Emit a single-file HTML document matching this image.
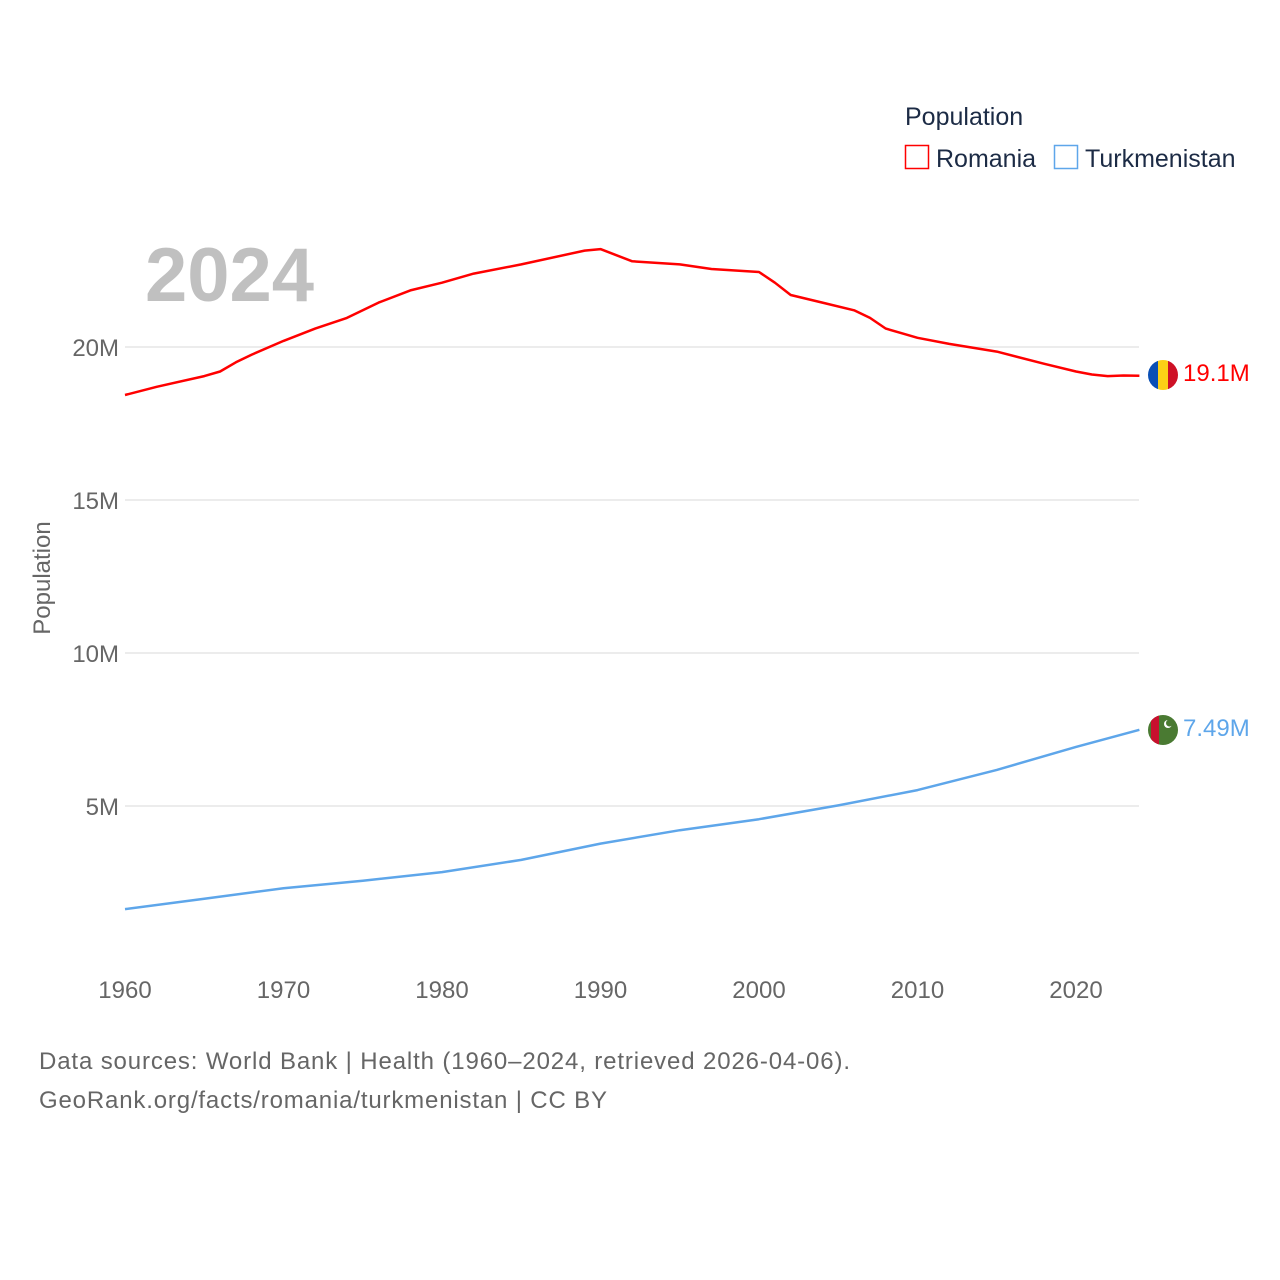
<!DOCTYPE html>
<html><head><meta charset="utf-8"><style>
html,body{margin:0;padding:0;background:#fff;width:1280px;height:1280px;overflow:hidden;font-family:"Liberation Sans",sans-serif;}
</style></head><body>
<svg id="chart" width="1280" height="1280" xmlns="http://www.w3.org/2000/svg" font-family="Liberation Sans, sans-serif">
<defs>
<clipPath id="c1"><circle cx="1163" cy="375" r="15"/></clipPath>
<clipPath id="c2"><circle cx="1163" cy="730" r="15"/></clipPath>
</defs>
<g id="grid"></g>
<text x="145" y="301" font-size="76" font-weight="bold" fill="#c0c0c0">2024</text>
<text transform="translate(50,578) rotate(-90)" text-anchor="middle" font-size="24" fill="#666">Population</text>
<g id="lines"></g>
<g>
<text x="905" y="125" font-size="25" fill="#1c2b45">Population</text>
<rect x="905.5" y="145.5" width="23" height="23" fill="none" stroke="#ff0000" stroke-width="1.5"/>
<text x="936" y="167" font-size="25" fill="#1c2b45">Romania</text>
<rect x="1054.5" y="145.5" width="23" height="23" fill="none" stroke="#5ea6ea" stroke-width="1.5"/>
<text x="1085" y="167" font-size="25" fill="#1c2b45">Turkmenistan</text>
</g>
<g clip-path="url(#c1)">
<rect x="1148" y="360" width="10" height="30" fill="#0a4fb5"/><rect x="1158" y="360" width="10" height="30" fill="#fcd116"/><rect x="1168" y="360" width="10" height="30" fill="#ce1126"/>
</g>
<g clip-path="url(#c2)">
<rect x="1148" y="715" width="30" height="30" fill="#4a7a32"/><rect x="1151" y="715" width="8" height="30" fill="#c8102e"/>
<circle cx="1168" cy="724" r="4" fill="#fff"/><circle cx="1169.5" cy="723" r="3.5" fill="#4a7a32"/>
</g>
<text x="1183" y="381" font-size="24" fill="#ff0000">19.1M</text>
<text x="1183" y="736" font-size="24" fill="#5ea6ea">7.49M</text>
<text x="39" y="1069" font-size="24" fill="#666" textLength="811" lengthAdjust="spacing">Data sources: World Bank | Health (1960–2024, retrieved 2026-04-06).</text>
<text x="39" y="1108" font-size="24" fill="#666" textLength="568" lengthAdjust="spacing">GeoRank.org/facts/romania/turkmenistan | CC BY</text>
</svg>
<script>
const yTicks=[5,10,15,20];
const yTickLabels=["5M","10M","15M","20M"];
const xTicks=[1960,1970,1980,1990,2000,2010,2020];
const romYears=[1960,1962,1965,1966,1967,1968,1970,1972,1974,1976,1978,1980,1982,1985,1989,1990,1992,1995,1997,2000,2001,2002,2004,2006,2007,2008,2009,2010,2012,2015,2018,2020,2021,2022,2023,2024];
const romValues=[18.43,18.7,19.05,19.2,19.5,19.75,20.2,20.6,20.95,21.45,21.85,22.1,22.4,22.7,23.15,23.2,22.8,22.7,22.55,22.45,22.1,21.7,21.45,21.2,20.95,20.6,20.45,20.3,20.1,19.85,19.45,19.2,19.1,19.05,19.07,19.06];
const tkmYears=[1960,1965,1970,1975,1980,1985,1990,1995,2000,2005,2010,2015,2020,2024];
const tkmValues=[1.63,1.97,2.31,2.56,2.84,3.24,3.77,4.21,4.57,5.02,5.52,6.18,6.93,7.49];
const X=y=>125+(y-1960)*(1076-125)/60;
const Y=v=>959-v*30.6;
const NS="http://www.w3.org/2000/svg";
const grid=document.getElementById('grid');
yTicks.forEach((t,i)=>{
 const l=document.createElementNS(NS,'line');
 l.setAttribute('x1',125);l.setAttribute('x2',1139);l.setAttribute('y1',Y(t));l.setAttribute('y2',Y(t));
 l.setAttribute('stroke','#e6e6e6');l.setAttribute('stroke-width','1.5');
 
 
 grid.appendChild(l);
 const tx=document.createElementNS(NS,'text');
 tx.setAttribute('x',119);tx.setAttribute('y',Y(t)+9);tx.setAttribute('text-anchor','end');
 tx.setAttribute('font-size','24');tx.setAttribute('fill','#666');tx.textContent=yTickLabels[i];
 
 
 grid.appendChild(tx);
});
xTicks.forEach(t=>{
 const tx=document.createElementNS(NS,'text');
 tx.setAttribute('x',X(t));tx.setAttribute('y',998);tx.setAttribute('text-anchor','middle');
 tx.setAttribute('font-size','24');tx.setAttribute('fill','#666');tx.textContent=t;
 
 
 grid.appendChild(tx);
});
const lines=document.getElementById('lines');
function addLine(ys,vs,col,name){
 const p=document.createElementNS(NS,'path');
 p.setAttribute('d',ys.map((y,i)=>(i?'L':'M')+X(y).toFixed(1)+','+Y(vs[i]).toFixed(1)).join(''));
 p.setAttribute('fill','none');p.setAttribute('stroke',col);p.setAttribute('stroke-width','2.5');
 p.setAttribute('stroke-linejoin','round');
 
 
 lines.appendChild(p);
}
addLine(romYears,romValues,'#ff0000','romania-line');
addLine(tkmYears,tkmValues,'#5ea6ea','turkmenistan-line');
</script>
</body></html>
